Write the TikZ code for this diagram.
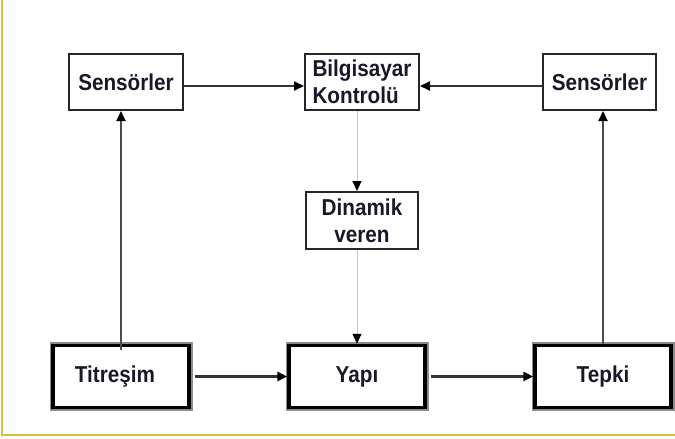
\documentclass[tikz,border=0pt]{standalone}
\usepackage{fontspec}
\setmainfont{Liberation Sans}
\newfontfamily\labfont[FakeStretch=0.9]{Liberation Sans}
\usetikzlibrary{arrows.meta}
\definecolor{gold}{RGB}{228,186,62}
\definecolor{txt}{RGB}{24,24,40}
\tikzset{
  lbl/.style={font=\labfont\fontsize{23}{27}\selectfont\bfseries, text=txt, inner sep=0pt},
  topbox/.style={lbl, draw=black!85, line width=2pt, fill=white, align=center},
  botbox/.style={lbl, draw=black, line width=3.5pt, fill=white,
    preaction={draw=black!45, line width=7pt},
    minimum width=136pt, minimum height=62pt},
  tip/.style={-{Triangle[length=10pt,width=9pt,color=black]}},
  arr/.style={tip, draw=black!80, line width=2pt},
  thinarr/.style={tip, draw=black!22, line width=1pt}
}
\begin{document}
\begin{tikzpicture}[x=1pt,y=-1pt]
\useasboundingbox (0,0) rectangle (675,439);
\fill[white] (0,0) rectangle (675,439);
% frame
\draw[gold, line width=2pt] (2,0) -- (2,435) -- (675,435);
% top row
\node[topbox, minimum width=114pt, minimum height=56pt] (S1) at (126,82) {Sensörler};
\node[topbox, minimum width=114pt, minimum height=56pt, align=left] (BK) at (362,82) {Bilgisayar\\Kontrolü};
\node[topbox, minimum width=113pt, minimum height=56pt] (S2) at (599.5,82) {Sensörler};
\node[topbox, minimum width=112pt, minimum height=57pt] (DV) at (362,220.5) {Dinamik\\veren};
% bottom row
\node[botbox, text width=136pt, align=center] (TI) at (121,376.5) {\hspace*{-12pt}\raisebox{3pt}{Titreşim}};
\node[botbox] (YA) at (357,376.5) {Yapı};
\node[botbox] (TE) at (603,376.5) {\raisebox{2pt}{Tepki}};
% connectors
\draw[arr] ([yshift=-4pt]S1.east) -- ([yshift=-4pt]BK.west);
\draw[arr] ([yshift=-4pt]S2.west) -- ([yshift=-4pt]BK.east);
\draw[arr, draw=black!70] ([yshift=-6pt]TI.north) -- (TI.north |- S1.south);
\draw[arr, draw=black!70] (TE.north) -- (TE.north |- S2.south);
\draw[thinarr] (YA.north |- BK.south) -- (YA.north |- DV.north);
\draw[thinarr] (YA.north |- DV.south) -- (YA.north);
\draw[arr, line width=2.5pt] ([xshift=4pt]TI.east) -- (YA.west);
\draw[arr, line width=2.5pt] ([xshift=4pt]YA.east) -- (TE.west);
\end{tikzpicture}
\end{document}
